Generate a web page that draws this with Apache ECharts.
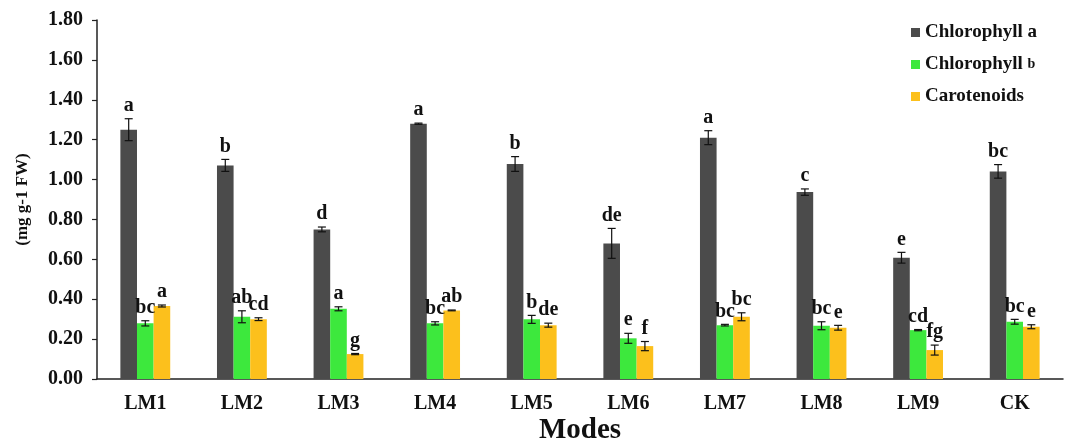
<!DOCTYPE html>
<html>
<head>
<meta charset="utf-8">
<script src="https://cdn.jsdelivr.net/npm/echarts@6/dist/echarts.min.js"></script>
<style>html,body{margin:0;padding:0;background:#fff;}#c{width:1069px;height:439px;}</style>
</head>
<body>
<div id="c"></div>
<script>
const categories = ['LM1','LM2','LM3','LM4','LM5','LM6','LM7','LM8','LM9','CK'];
const chlA    = [1.250,1.071,0.750,1.280,1.078,0.680,1.210,0.937,0.608,1.041];
const chlAErr = [0.055,0.030,0.012,0.003,0.037,0.075,0.035,0.016,0.027,0.034];
const chlB    = [0.279,0.312,0.352,0.279,0.299,0.204,0.270,0.267,0.245,0.287];
const chlBErr = [0.013,0.030,0.010,0.008,0.020,0.025,0.004,0.020,0.003,0.012];
const car     = [0.366,0.300,0.125,0.344,0.270,0.165,0.312,0.257,0.145,0.262];
const carErr  = [0.005,0.007,0.003,0.002,0.010,0.023,0.020,0.012,0.025,0.010];
const lettersA = ['a','b','d','a','b','de','a','c','e','bc'];
const lettersB = ['bc','ab','a','bc','b','e','bc','bc','cd','bc'];
const lettersC = ['a','cd','g','ab','de','f','bc','e','fg','e'];
const yTicks = [0,0.2,0.4,0.6,0.8,1.0,1.2,1.4,1.6,1.8];

const FONT = '"Liberation Serif", "Times New Roman", serif';
const BAR_FRAC = 0.172;
const seriesDefs = [
  {name:'Chlorophyll a', vals:chlA, errs:chlAErr, letters:lettersA, color:'#4b4b4b'},
  {name:'Chlorophyll b', vals:chlB, errs:chlBErr, letters:lettersB, color:'#3de83d'},
  {name:'Carotenoids',   vals:car,  errs:carErr,  letters:lettersC, color:'#fcc01c'}
];

const series = [];
seriesDefs.forEach(s => {
  series.push({
    name: s.name, type: 'bar', data: s.vals,
    barWidth: (BAR_FRAC*100)+'%', barGap: '0%',
    itemStyle: {color: s.color}
  });
});
seriesDefs.forEach((s, k) => {
  series.push({
    type: 'custom', z: 10, silent: true,
    data: s.vals.map((v, i) => [i, v, s.errs[i]]),
    renderItem: function (params, api) {
      const idx = api.value(0), v = api.value(1), e = api.value(2);
      const band = api.size([1, 0])[0];
      const bw = band * BAR_FRAC;
      const c = api.coord([idx, v]);
      const x = c[0] + (k - 1) * bw;
      const yt = api.coord([idx, v + e])[1];
      const yb = api.coord([idx, v - e])[1];
      const cap = 4;
      const st = {stroke: '#111', lineWidth: 1.2};
      return {
        type: 'group',
        children: [
          {type:'line', shape:{x1:x, y1:yt, x2:x, y2:yb}, style:st},
          {type:'line', shape:{x1:x-cap, y1:yt, x2:x+cap, y2:yt}, style:st},
          {type:'line', shape:{x1:x-cap, y1:yb, x2:x+cap, y2:yb}, style:st},
          {type:'text', style:{x:x, y:yt-3, text:s.letters[params.dataIndex],
            align:'center', verticalAlign:'bottom', fill:'#111',
            font:'bold 20px ' + FONT}}
        ]
      };
    }
  });
});

const chart = echarts.init(document.getElementById('c'));
chart.setOption({
  animation: false,
  backgroundColor: '#fff',
  grid: {left: 97, right: 6, top: 20, bottom: 60, outerBoundsMode: 'none', containLabel: false},
  legend: {
    orient: 'vertical', left: 906, top: 18,
    data: seriesDefs.map(s => s.name),
    icon: 'rect', itemWidth: 9, itemHeight: 9, itemGap: 13,
    formatter: function (n) { return n === 'Chlorophyll b' ? '{m|Chlorophyll} {s|b}' : n; },
    textStyle: {fontFamily: FONT, fontWeight: 'bold', fontSize: 19, color: '#111',
      rich: {m: {fontFamily: FONT, fontWeight: 'bold', fontSize: 19, color: '#111'},
             s: {fontFamily: FONT, fontWeight: 'bold', fontSize: 14, color: '#111'}}}
  },
  xAxis: {
    type: 'category', data: categories,
    name: 'Modes', nameLocation: 'middle', nameGap: 37, nameMoveOverlap: false,
    nameTextStyle: {fontFamily: FONT, fontWeight: 'bold', fontSize: 29, color: '#111'},
    axisLine: {lineStyle: {color: '#222', width: 1.5}},
    axisTick: {length: 5, lineStyle: {color: '#222', width: 1.2}},
    axisLabel: {fontFamily: FONT, fontWeight: 'bold', fontSize: 20, color: '#111', margin: 15}
  },
  yAxis: {
    type: 'value', min: 0, max: 1.8, interval: 0.2,
    name: '(mg g-1 FW)', nameLocation: 'middle', nameGap: 66, nameMoveOverlap: false,
    nameTextStyle: {fontFamily: FONT, fontWeight: 'bold', fontSize: 17, color: '#111'},
    axisLine: {show: true, lineStyle: {color: '#222', width: 1.5}},
    axisTick: {show: true, length: 5, lineStyle: {color: '#222', width: 1.2}},
    splitLine: {show: false},
    axisLabel: {fontFamily: FONT, fontWeight: 'bold', fontSize: 20, color: '#111', margin: 14,
      formatter: v => v.toFixed(2)}
  },
  series: series
});
</script>
</body>
</html>
